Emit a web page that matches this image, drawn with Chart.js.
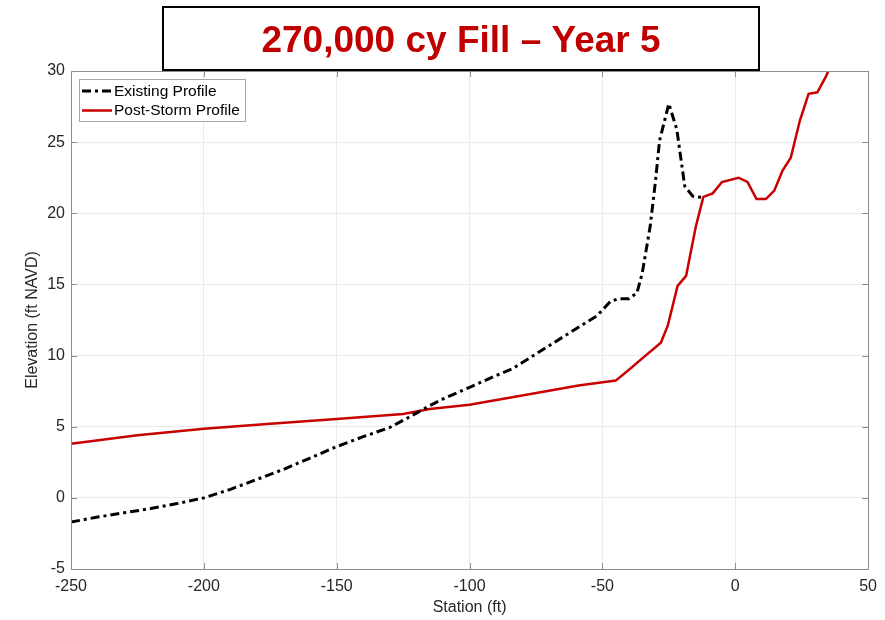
<!DOCTYPE html>
<html lang="en">
<head>
<meta charset="UTF-8">
<script src="https://cdn.jsdelivr.net/npm/chart.js"></script>
<style>
  body { margin: 0; background: #fff; }
  #wrap { width: 885px; height: 620px; }
</style>
</head>
<body>
<div id="wrap"><canvas id="myChart" width="885" height="620"></canvas></div>
<script>
// values
var chartTitle = '270,000 cy Fill \u2013 Year 5';
var existingStation = [-250, -240, -230, -220, -210, -200, -190, -180, -170, -160, -150, -140, -130, -120, -115, -110, -100, -90, -84, -74, -62, -52, -47, -44, -40, -37, -35, -32, -30, -28.5, -25, -22, -19, -16, -12];
var existingElev = [-1.7, -1.35, -1.05, -0.75, -0.4, 0.0, 0.6, 1.3, 2.0, 2.8, 3.6, 4.3, 4.95, 5.95, 6.48, 6.95, 7.77, 8.6, 9.06, 10.23, 11.64, 12.8, 13.8, 14.0, 14.0, 14.4, 15.8, 19.1, 22.3, 25.1, 27.7, 25.9, 21.9, 21.2, 21.1];
var postStation = [-250, -225, -200, -175, -150, -125, -115, -100, -77, -59, -45, -40, -35, -28, -25.4, -21.7, -18.5, -14.8, -12, -8.5, -5, 1.2, 4.6, 8, 11.5, 14.7, 17.8, 20.9, 24.3, 27.6, 30.9, 34.1, 35];
var postElev = [3.8, 4.4, 4.86, 5.2, 5.54, 5.9, 6.25, 6.55, 7.3, 7.9, 8.24, 9.0, 9.8, 10.9, 12.1, 14.9, 15.6, 19.1, 21.15, 21.4, 22.2, 22.5, 22.2, 21.0, 21.0, 21.6, 23.0, 23.9, 26.5, 28.4, 28.5, 29.6, 30.0];
var xTicks = [-250, -200, -150, -100, -50, 0, 50];
var yTicks = [-5, 0, 5, 10, 15, 20, 25, 30];

function toPoints(xs, ys) {
    return xs.map(function (x, i) { return { x: x, y: ys[i] }; });
}

var FONT = "'Liberation Sans', Arial, sans-serif";
var TXT = '#262626';
var AXIS = '#8c8c8c';

// box round the plot, inward ticks on all four sides, legend and title box
var matlabLook = {
    id: 'matlabLook',
    afterDatasetsDraw: function (chart) {
        var ctx = chart.ctx, a = chart.chartArea;
        var xs = chart.scales.x, ys = chart.scales.y;
        ctx.save();
        ctx.strokeStyle = AXIS;
        ctx.lineWidth = 1;
        ctx.beginPath();
        xTicks.forEach(function (v) {
            var px = Math.round(xs.getPixelForValue(v)) + 0.5;
            ctx.moveTo(px, a.bottom); ctx.lineTo(px, a.bottom - 6);
            ctx.moveTo(px, a.top); ctx.lineTo(px, a.top + 6);
        });
        yTicks.forEach(function (v) {
            var py = Math.round(ys.getPixelForValue(v)) + 0.5;
            ctx.moveTo(a.left, py); ctx.lineTo(a.left + 6, py);
            ctx.moveTo(a.right, py); ctx.lineTo(a.right - 6, py);
        });
        ctx.stroke();
        ctx.strokeRect(Math.round(a.left) + 0.5, Math.round(a.top) + 0.5,
            Math.round(a.right - a.left), Math.round(a.bottom - a.top));
        ctx.restore();
    },
    afterDraw: function (chart) {
        var ctx = chart.ctx;
        ctx.save();
        // legend
        var lx = 79, ly = 79, lw = 166, lh = 42;
        ctx.fillStyle = '#fff';
        ctx.fillRect(lx, ly, lw, lh);
        ctx.strokeStyle = '#a6a6a6';
        ctx.lineWidth = 1;
        ctx.strokeRect(lx + 0.5, ly + 0.5, lw, lh);
        ctx.font = '15.5px ' + FONT;
        ctx.textBaseline = 'middle';
        chart.data.datasets.forEach(function (ds, i) {
            var y = ly + 12 + i * 19.5;
            ctx.strokeStyle = ds.borderColor;
            ctx.lineWidth = ds.borderWidth;
            ctx.setLineDash(ds.borderDash || []);
            ctx.beginPath();
            ctx.moveTo(lx + 3, y);
            ctx.lineTo(lx + 33, y);
            ctx.stroke();
            ctx.setLineDash([]);
            ctx.fillStyle = '#000';
            ctx.fillText(ds.label, lx + 35, y + 0.5);
        });
        // title box
        ctx.fillStyle = '#fff';
        ctx.fillRect(162, 6, 597, 64);
        ctx.strokeStyle = '#000';
        ctx.lineWidth = 2;
        ctx.strokeRect(163, 7, 596, 63);
        ctx.fillStyle = '#c00000';
        ctx.font = 'bold 37px ' + FONT;
        ctx.textAlign = 'center';
        ctx.textBaseline = 'alphabetic';
        ctx.fillText(chartTitle, 461, 52);
        ctx.restore();
    }
};

var ctx = document.getElementById('myChart').getContext('2d');
var myChart = new Chart(ctx, {
    type: 'line',
    data: {
        datasets: [
            {
                label: 'Existing Profile',
                data: toPoints(existingStation, existingElev),
                borderColor: '#000000',
                borderWidth: 3,
                borderDash: [9, 4, 3, 4],
                pointRadius: 0,
                fill: false,
                tension: 0
            },
            {
                label: 'Post-Storm Profile',
                data: toPoints(postStation, postElev),
                borderColor: '#c80000',
                borderWidth: 2.5,
                pointRadius: 0,
                fill: false,
                tension: 0
            }
        ]
    },
    options: {
        responsive: false,
        animation: false,
        layout: { padding: { top: 71, right: 16, bottom: 0, left: 0 } },
        plugins: {
            legend: { display: false },
            title: { display: false },
            tooltip: { enabled: false }
        },
        scales: {
            x: {
                type: 'linear',
                min: -250,
                max: 50,
                afterBuildTicks: function (s) { s.ticks = xTicks.map(function (v) { return { value: v }; }); },
                afterFit: function (s) { s.height = 51; },
                grid: { color: '#ebebeb', drawTicks: false },
                border: { color: AXIS },
                ticks: { color: TXT, font: { family: FONT, size: 16 }, padding: 8, maxRotation: 0 },
                title: { display: true, text: 'Station (ft)', color: TXT, font: { family: FONT, size: 16 }, padding: { top: 0, bottom: 2.4 } }
            },
            y: {
                min: -5,
                max: 30,
                afterBuildTicks: function (s) { s.ticks = yTicks.map(function (v) { return { value: v }; }); },
                afterFit: function (s) { s.width = 71; },
                grid: { color: '#ebebeb', drawTicks: false },
                border: { color: AXIS },
                ticks: { color: TXT, font: { family: FONT, size: 16 }, padding: 6 },
                title: { display: true, text: 'Elevation (ft NAVD)', color: TXT, font: { family: FONT, size: 16 }, padding: { top: 23.4, bottom: 0 } }
            }
        }
    },
    plugins: [matlabLook]
});
</script>
</body>
</html>
